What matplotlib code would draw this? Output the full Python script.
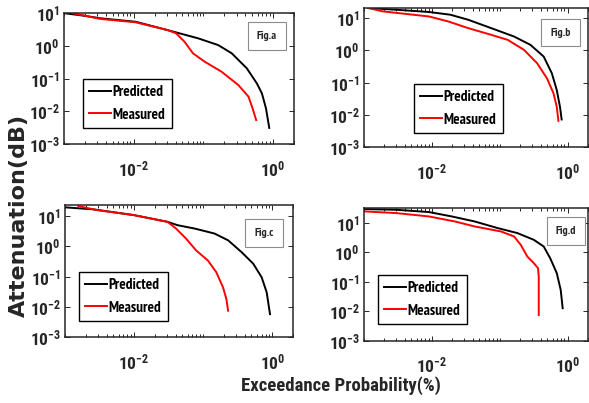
import matplotlib
matplotlib.use("Agg")
import matplotlib.pyplot as plt
from matplotlib.ticker import FixedLocator, NullFormatter

# narrow bold faces, close to the Helvetica Narrow look of the original
NARROW = "Roboto Condensed"
NARROWER = "PT Sans Narrow"

plt.rcParams["font.family"] = [NARROW, "DejaVu Sans"]
plt.rcParams["font.weight"] = "bold"
plt.rcParams["mathtext.fontset"] = "custom"
plt.rcParams["mathtext.rm"] = NARROW + ":bold"
plt.rcParams["mathtext.bf"] = NARROW + ":bold"
plt.rcParams["mathtext.default"] = "bf"

TXT = "#262626"

# ---- data (exceedance %, attenuation dB) ----
a_pred_x = [0.00103, 0.0019, 0.00333, 0.0107, 0.0308, 0.0454, 0.0838, 0.163, 0.255, 0.42, 0.586, 0.693, 0.792, 0.883]
a_pred_y = [9.8, 8.3, 6.9, 5.4, 3.0, 2.4, 1.69, 1.05, 0.59, 0.205, 0.071, 0.035, 0.0123, 0.0031]
a_meas_x = [0.00136, 0.0033, 0.0107, 0.0308, 0.0406, 0.0536, 0.0708, 0.1045, 0.182, 0.318, 0.445, 0.508, 0.573]
a_meas_y = [9.8, 6.6, 5.2, 3.0, 2.4, 1.33, 0.59, 0.326, 0.162, 0.063, 0.0278, 0.0123, 0.0054]

b_pred_x = [0.00115, 0.00298, 0.00906, 0.0187, 0.0343, 0.0748, 0.163, 0.284, 0.445, 0.586, 0.693, 0.773, 0.818]
b_pred_y = [20.5, 18.1, 15.4, 12.7, 8.85, 4.87, 2.67, 1.47, 0.637, 0.194, 0.0583, 0.0176, 0.00714]
b_meas_x = [0.00115, 0.0019, 0.00906, 0.0176, 0.0343, 0.0748, 0.131, 0.228, 0.356, 0.497, 0.621, 0.693, 0.733]
b_meas_y = [20.5, 16.1, 11.2, 7.8, 4.87, 3.02, 2.11, 1.03, 0.396, 0.135, 0.046, 0.0176, 0.00646]

c_pred_x = [0.001, 0.00259, 0.00993, 0.0305, 0.0427, 0.0747, 0.146, 0.23, 0.359, 0.532, 0.703, 0.832, 0.929]
c_pred_y = [19.5, 16.7, 10.8, 6.46, 5.0, 3.89, 2.65, 1.58, 0.646, 0.265, 0.0948, 0.03, 0.0057]
c_meas_x = [0.00156, 0.0029, 0.00993, 0.0305, 0.0404, 0.0565, 0.079, 0.117, 0.155, 0.194, 0.217, 0.23]
c_meas_y = [21.5, 15.8, 10.8, 6.46, 3.89, 1.81, 0.735, 0.341, 0.139, 0.044, 0.018, 0.0074]

d_pred_x = [0.00103, 0.00298, 0.00906, 0.0197, 0.043, 0.0935, 0.182, 0.318, 0.445, 0.554, 0.693, 0.792, 0.847]
d_pred_y = [30.0, 28.4, 23.7, 16.8, 11.3, 6.74, 4.56, 2.69, 1.59, 0.638, 0.197, 0.053, 0.0126]
d_meas_x = [0.00103, 0.00298, 0.00906, 0.022, 0.043, 0.1045, 0.163, 0.204, 0.255, 0.318, 0.367, 0.376, 0.376]
d_meas_y = [24.9, 21.9, 16.8, 11.3, 7.65, 5.17, 3.49, 1.82, 0.725, 0.431, 0.291, 0.15, 0.0074]

panel_names = ["Fig.a", "Fig.b", "Fig.c", "Fig.d"]
y_tops = [10.0, 20.5, 23.3, 32.6]
y_ticks = [1e-3, 1e-2, 1e-1, 1e0, 1e1]
y_ticklabels = ["$10^{-3}$", "$10^{-2}$", "$10^{-1}$", "$10^{0}$", "$10^{1}$"]
x_ticks = [1e-2, 1e0]
x_ticklabels = ["$10^{-2}$", "$10^{0}$"]

W, H = 589, 403


def px_rect(l, t, r, b):
    return [l / W, 1 - b / H, (r - l) / W, (b - t) / H]


def fig_xy(x, y):
    return x / W, 1 - y / H


fig = plt.figure(figsize=(W / 100, H / 100), dpi=100)

# axes boxes in pixels (left, top, right, bottom), legend top-left, label centre
layout = [
    ((64, 13, 294, 144), (83, 79), (267, 36)),
    ((364, 8, 588, 147), (414, 84), (560.5, 32.5)),
    ((65, 205, 293, 337), (79, 272), (264, 233)),
    ((364, 208, 588, 340.5), (378, 275), (566, 231)),
]
series = [
    (a_pred_x, a_pred_y, a_meas_x, a_meas_y),
    (b_pred_x, b_pred_y, b_meas_x, b_meas_y),
    (c_pred_x, c_pred_y, c_meas_x, c_meas_y),
    (d_pred_x, d_pred_y, d_meas_x, d_meas_y),
]

minor = [k * 10.0 ** e for e in range(-3, 1) for k in range(1, 10)]
minor = [m for m in minor if m not in x_ticks] + [2.0]

for i in range(4):
    box, leg_pos, lab_pos = layout[i]
    px, py, mx, my = series[i]
    ax = fig.add_axes(px_rect(*box))
    ax.loglog(px, py, color="black", lw=1.4, label="Predicted")
    ax.loglog(mx, my, color="red", lw=1.4, label="Measured")
    ax.set_xlim(1e-3, 2.0)
    ax.set_ylim(1e-3, y_tops[i])

    ax.xaxis.set_major_locator(FixedLocator(x_ticks))
    ax.set_xticklabels(x_ticklabels)
    ax.xaxis.set_minor_locator(FixedLocator(minor))
    ax.xaxis.set_minor_formatter(NullFormatter())
    ax.yaxis.set_major_locator(FixedLocator(y_ticks))
    ax.set_yticklabels(y_ticklabels)
    ax.yaxis.set_minor_locator(FixedLocator([]))

    ax.tick_params(which="both", direction="in", top=True, right=True,
                   colors=TXT, width=0.7, labelsize=12.5)
    ax.tick_params(which="major", length=3.5)
    ax.tick_params(which="minor", length=2)
    ax.tick_params(axis="x", pad=11)
    ax.tick_params(axis="y", pad=3)
    for s in ax.spines.values():
        s.set_linewidth(1.1)
        s.set_color(TXT)

    # legend, anchored by its top-left corner in figure pixels
    lx, ly = fig_xy(*leg_pos)
    leg = ax.legend(loc="upper left", bbox_to_anchor=(lx, ly),
                    bbox_transform=fig.transFigure, borderaxespad=0,
                    frameon=True, fancybox=False, framealpha=1,
                    edgecolor="black", handlelength=1.45, handletextpad=0.1,
                    labelspacing=0.55, borderpad=0.4,
                    prop={"family": NARROWER, "weight": "bold", "size": 11})
    leg.get_frame().set_linewidth(1.0)

    tx, ty = fig_xy(*lab_pos)
    fig.text(tx, ty, panel_names[i], ha="center", va="center", fontsize=8.5,
             family=NARROWER, fontweight="bold", color=TXT,
             bbox=dict(boxstyle="square,pad=0.75", fc="white", ec="0.55", lw=0.8))

fig.text(*fig_xy(19, 215), "Attenuation(dB)", rotation=90, ha="center", va="center",
         family="DejaVu Sans", fontweight="bold", fontsize=16, color=TXT)
fig.text(*fig_xy(341, 386), "Exceedance Probability(%)", ha="center", va="center",
         fontsize=13.5, fontweight="bold", color=TXT)

fig.savefig("out.png", dpi=100)
